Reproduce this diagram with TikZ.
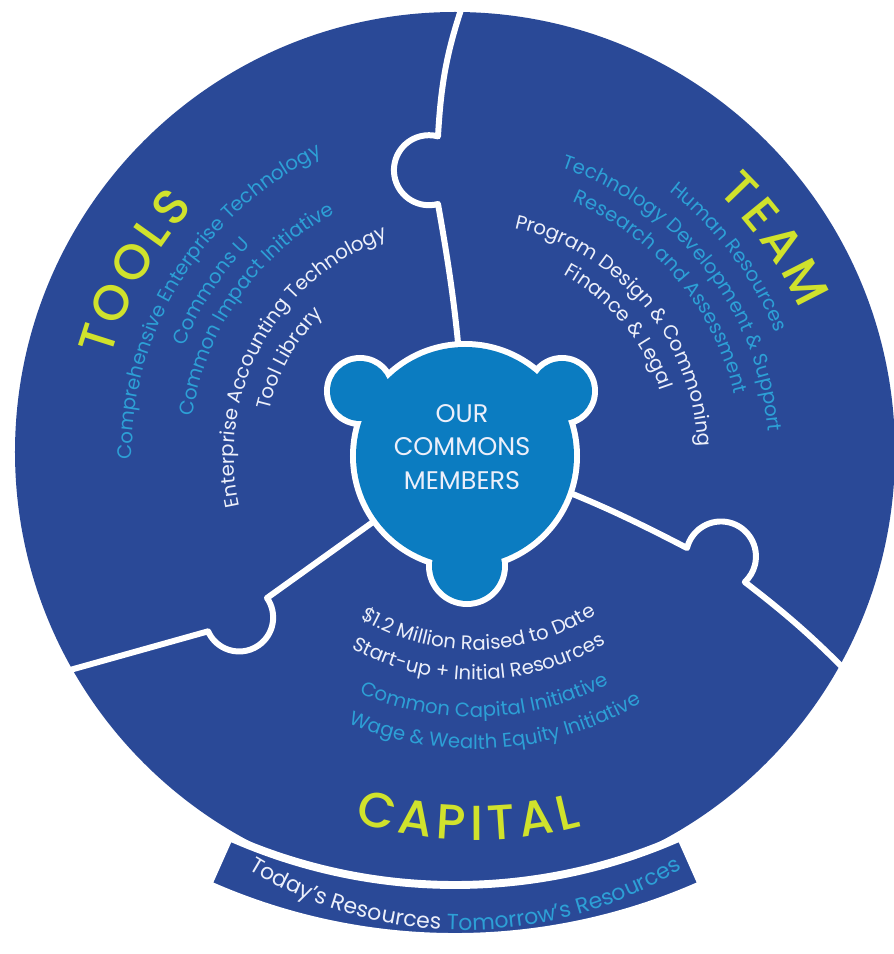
\documentclass[tikz,border=0pt]{standalone}
\usepackage{fontspec}
\setmainfont{Poppins}
\newfontfamily\titlefont{Poppins Medium}
\usepackage{tikz}
\usetikzlibrary{decorations.text}
\definecolor{ringblue}{RGB}{42,73,151}
\definecolor{bearblue}{RGB}{11,124,193}
\definecolor{itemcyan}{RGB}{45,160,214}
\definecolor{itemwhite}{RGB}{236,239,250}
\definecolor{lime}{RGB}{208,226,44}
\newcommand{\itemsize}{\fontsize{11.2}{14}\selectfont}
\newcommand{\titlesize}{\titlefont\fontsize{28}{32}\selectfont}
\newcommand{\bandsize}{\fontsize{12.5}{15}\selectfont}

\begin{document}
\begin{tikzpicture}[
  divider/.style={white, line width=3.4pt, line join=round},
  arctext/.style={decorate, decoration={text along path, text align=center, text color=#1}}]
\useasboundingbox (-9.1,-10.04) rectangle (8.78,9.04);

\coordinate (bear) at (0.2,-0.08);
\coordinate (topA) at (-0.34,4.96);
\coordinate (topend) at (0.22,9.14);
\coordinate (rightA) at (4.64,-1.92);
\coordinate (rightend) at (8.0,-4.56);
\coordinate (leftA) at (-3.76,-2.92);
\coordinate (leftend) at (-7.7,-4.36);
\coordinate (capc) at (0.4,0.54);
\coordinate (bandc) at (0,2.44);
\coordinate (bandtextc) at (0.2,-1.24);

\fill[ringblue] (0,0) circle (8.8);

\draw[divider] (bear) to[bend right=4] (topA) arc[start angle=-75, end angle=-285, radius=0.7] to[bend left=8] (topend);
\draw[divider] (bear) to[bend left=5] (rightA) arc[start angle=166, end angle=-47, radius=0.7] to[bend left=4] (rightend);
\draw[divider] (bear) -- (leftA) arc[start angle=35, end angle=-156, radius=0.68] -- (leftend);

\begin{scope}[shift={(bandc)}]
\filldraw[fill=ringblue, draw=white, line width=4.5pt] (-114:11.1) arc[start angle=-114, end angle=-66, radius=11.1] -- (-66:12.14) arc[start angle=-66, end angle=-114, radius=12.14] -- cycle;
\end{scope}

\fill[white] (bear) circle (2.3) (-1.9,1.22) circle (0.72) (2.14,1.22) circle (0.72) (0.24,-2.28) circle (0.82);
\fill[bearblue] (bear) circle (2.18) (-1.9,1.22) circle (0.6) (2.14,1.22) circle (0.6) (0.24,-2.28) circle (0.7);
\node[align=center, text=itemwhite, font=\fontsize{14.5}{19}\selectfont] (members) at (0.14,0.1) {OUR\\COMMONS\\MEMBERS};

\begin{scope}[shift={(bear)}]
\path[arctext=lime, decoration={text={|\titlesize|T{\kern2.5pt}O{\kern2.5pt}O{\kern2.5pt}L{\kern2.5pt}S}}] (196:7.36) arc[start angle=196, end angle=106, radius=7.36];
\path[arctext=itemcyan, decoration={text={|\itemsize|Comprehensive Enterprise Technology}}] (193:6.66) arc[start angle=193, end angle=103, radius=6.66];
\path[arctext=itemcyan, decoration={text={|\itemsize|Commons U}}] (192:6.02) arc[start angle=192, end angle=102, radius=6.02];
\path[arctext=itemcyan, decoration={text={|\itemsize|Common Impact Initiative}}] (190:5.5) arc[start angle=190, end angle=100, radius=5.5];
\path[arctext=itemwhite, decoration={text={|\itemsize|Enterprise Accounting Technology}}] (196:4.62) arc[start angle=196, end angle=106, radius=4.62];
\path[arctext=itemwhite, decoration={text={|\itemsize|Tool Library}}] (196:4.02) arc[start angle=196, end angle=106, radius=4.02];

\path[arctext=lime, decoration={text={|\titlesize|T{\kern2.5pt}E{\kern2.5pt}A{\kern2.5pt}M}}] (80:7.3) arc[start angle=80, end angle=-10, radius=7.3];
\path[arctext=itemcyan, decoration={text={|\itemsize|Human Resources}}] (82:6.68) arc[start angle=82, end angle=-8, radius=6.68];
\path[arctext=itemcyan, decoration={text={|\itemsize|Technology Development {\&} Support}}] (83:6.08) arc[start angle=83, end angle=-7, radius=6.08];
\path[arctext=itemcyan, decoration={text={|\itemsize|Research and Assessment}}] (85:5.52) arc[start angle=85, end angle=-5, radius=5.52];
\path[arctext=itemwhite, decoration={text={|\itemsize|Program Design {\&} Commoning}}] (85:4.66) arc[start angle=85, end angle=-5, radius=4.66];
\path[arctext=itemwhite, decoration={text={|\itemsize|Finance {\&} Legal}}] (85:4.12) arc[start angle=85, end angle=-5, radius=4.12];
\end{scope}

\begin{scope}[shift={(capc)}]
\path[arctext=itemwhite, decoration={text={|\itemsize|{\$}1.2 Million Raised to Date}}] (-134:4.5) arc[start angle=-134, end angle=-44, radius=4.5];
\path[arctext=itemwhite, decoration={text={|\itemsize|Start-up + Initial Resources}}] (-134:5.1) arc[start angle=-134, end angle=-44, radius=5.1];
\path[arctext=itemcyan, decoration={text={|\itemsize|Common Capital Initiative}}] (-133:5.84) arc[start angle=-133, end angle=-43, radius=5.84];
\path[arctext=itemcyan, decoration={text={|\itemsize|Wage {\&} Wealth Equity Initiative}}] (-131:6.48) arc[start angle=-131, end angle=-41, radius=6.48];
\path[arctext=lime, decoration={text={|\titlesize|C{\kern3pt}A{\kern3pt}P{\kern3pt}I{\kern3pt}T{\kern3pt}A{\kern3pt}L}}] (-136:8.3) arc[start angle=-136, end angle=-46, radius=8.3];
\end{scope}

\begin{scope}[shift={(bandtextc)}]
\path[arctext=itemwhite, decoration={text={|\bandsize\color{itemwhite}|Today's Resources |\bandsize\color{itemcyan}|Tomorrow's Resources}}] (-135:8.32) arc[start angle=-135, end angle=-45, radius=8.32];
\end{scope}
\end{tikzpicture}
\end{document}
